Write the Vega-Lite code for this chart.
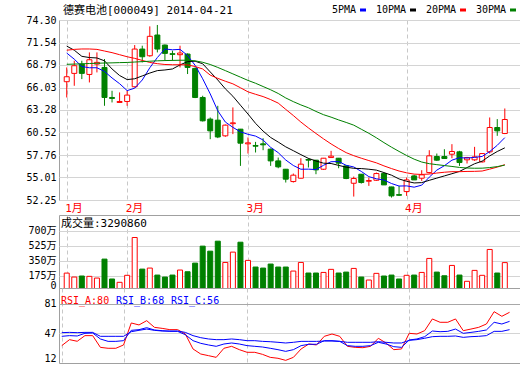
{
  "$schema": "https://vega.github.io/schema/vega-lite/v6.json",
  "autosize": {"type": "pad"},
  "padding": {"left": 25, "top": 4, "right": 1, "bottom": 1},
  "background": "white",
  "config": {
    "view": {"stroke": "#a0a0a0", "strokeWidth": 1},
    "font": "DejaVu Sans Mono, Noto Sans CJK SC",
    "axis": {"labelFont": "DejaVu Sans Mono, Noto Sans CJK SC", "labelFontSize": 10, "labelColor": "#000000", "ticks": false, "domain": false, "gridColor": "#d4d4d4", "title": null, "labelPadding": 3, "labelOverlap": false},
    "legend": {"labelFont": "DejaVu Sans Mono, Noto Sans CJK SC", "labelFontSize": 10, "labelColor": "#000000"},
    "title": {"font": "DejaVu Sans Mono, Noto Sans CJK SC", "fontSize": 11, "fontWeight": "normal", "color": "#000000"}
  },
  "datasets": {
    "k": [
      {"i":0,"o":66.74,"h":68.49,"l":64.81,"c":67.35,"v":206,"5PMA":70.25,"10PMA":71.1,"20PMA":70.6,"30PMA":68.87,"RSI_A":32.3,"RSI_B":43.2,"RSI_C":47.5},
      {"i":1,"o":67.76,"h":69.31,"l":66.24,"c":68.70,"v":160,"5PMA":69.5,"10PMA":70.6,"20PMA":70.7,"30PMA":68.9,"RSI_A":39.3,"RSI_B":44.0,"RSI_C":47.8},
      {"i":2,"o":68.90,"h":69.31,"l":67.06,"c":67.76,"v":172,"5PMA":68.6,"10PMA":69.85,"20PMA":70.75,"30PMA":68.93,"RSI_A":37.4,"RSI_B":43.6,"RSI_C":47.5},
      {"i":3,"o":67.63,"h":70.33,"l":66.65,"c":69.43,"v":168,"5PMA":68.45,"10PMA":69.7,"20PMA":70.75,"30PMA":68.97,"RSI_A":44.0,"RSI_B":46.7,"RSI_C":47.8},
      {"i":4,"o":68.90,"h":70.33,"l":67.88,"c":69.11,"v":148,"5PMA":68.45,"10PMA":69.65,"20PMA":70.7,"30PMA":69.0,"RSI_A":44.0,"RSI_B":47.1,"RSI_C":47.8},
      {"i":5,"o":68.49,"h":69.52,"l":63.79,"c":64.81,"v":370,"5PMA":68.0,"10PMA":69.3,"20PMA":70.5,"30PMA":69.03,"RSI_A":30.3,"RSI_B":40.1,"RSI_C":43.2},
      {"i":6,"o":64.81,"h":65.63,"l":64.20,"c":64.69,"v":137,"5PMA":67.2,"10PMA":68.3,"20PMA":70.3,"30PMA":69.05,"RSI_A":29.2,"RSI_B":37.3,"RSI_C":43.2},
      {"i":7,"o":64.20,"h":65.43,"l":64.16,"c":64.32,"v":98,"5PMA":66.5,"10PMA":67.5,"20PMA":70.05,"30PMA":69.08,"RSI_A":29.2,"RSI_B":37.3,"RSI_C":43.2},
      {"i":8,"o":64.32,"h":65.63,"l":63.79,"c":65.10,"v":180,"5PMA":65.65,"10PMA":67.0,"20PMA":69.8,"30PMA":69.1,"RSI_A":33.1,"RSI_B":38.1,"RSI_C":43.2},
      {"i":9,"o":66.12,"h":71.23,"l":66.04,"c":70.74,"v":623,"5PMA":65.95,"10PMA":67.1,"20PMA":69.6,"30PMA":69.15,"RSI_A":58.8,"RSI_B":50.2,"RSI_C":48.6},
      {"i":10,"o":70.74,"h":71.15,"l":69.11,"c":69.80,"v":253,"5PMA":66.95,"10PMA":67.45,"20PMA":69.35,"30PMA":69.2,"RSI_A":56.5,"RSI_B":51.0,"RSI_C":50.2},
      {"i":11,"o":69.92,"h":73.52,"l":69.80,"c":72.30,"v":265,"5PMA":68.45,"10PMA":67.8,"20PMA":69.1,"30PMA":69.25,"RSI_A":61.5,"RSI_B":53.3,"RSI_C":51.7},
      {"i":12,"o":72.46,"h":73.69,"l":70.33,"c":70.74,"v":183,"5PMA":69.7,"10PMA":68.1,"20PMA":68.95,"30PMA":69.3,"RSI_A":53.7,"RSI_B":50.6,"RSI_C":50.2},
      {"i":13,"o":71.23,"h":71.30,"l":69.31,"c":70.21,"v":160,"5PMA":70.75,"10PMA":68.18,"20PMA":68.85,"30PMA":69.33,"RSI_A":52.5,"RSI_B":49.8,"RSI_C":49.4},
      {"i":14,"o":70.17,"h":70.54,"l":69.31,"c":70.09,"v":183,"5PMA":70.65,"10PMA":68.3,"20PMA":68.82,"30PMA":69.35,"RSI_A":51.0,"RSI_B":49.0,"RSI_C":49.4},
      {"i":15,"o":70.05,"h":71.15,"l":68.49,"c":70.25,"v":242,"5PMA":70.7,"10PMA":68.8,"20PMA":68.82,"30PMA":69.37,"RSI_A":51.0,"RSI_B":49.0,"RSI_C":49.4},
      {"i":16,"o":70.13,"h":70.21,"l":67.68,"c":68.49,"v":222,"5PMA":69.95,"10PMA":69.2,"20PMA":68.8,"30PMA":69.37,"RSI_A":46.0,"RSI_B":45.1,"RSI_C":47.8},
      {"i":17,"o":68.37,"h":68.49,"l":64.73,"c":64.81,"v":323,"5PMA":68.75,"10PMA":69.25,"20PMA":68.6,"30PMA":69.3,"RSI_A":28.4,"RSI_B":38.1,"RSI_C":44.0},
      {"i":18,"o":64.81,"h":65.02,"l":61.87,"c":61.95,"v":522,"5PMA":67.1,"10PMA":68.94,"20PMA":68.3,"30PMA":69.12,"RSI_A":22.5,"RSI_B":35.0,"RSI_C":41.6},
      {"i":19,"o":62.16,"h":62.36,"l":59.70,"c":60.72,"v":463,"5PMA":65.25,"10PMA":67.94,"20PMA":67.55,"30PMA":68.85,"RSI_A":20.6,"RSI_B":33.1,"RSI_C":40.1},
      {"i":20,"o":62.03,"h":63.79,"l":59.83,"c":59.97,"v":580,"5PMA":63.18,"10PMA":66.95,"20PMA":67.15,"30PMA":68.49,"RSI_A":18.6,"RSI_B":31.5,"RSI_C":39.3},
      {"i":21,"o":60.11,"h":61.50,"l":59.99,"c":61.42,"v":331,"5PMA":61.8,"10PMA":65.87,"20PMA":66.8,"30PMA":68.1,"RSI_A":29.2,"RSI_B":34.2,"RSI_C":39.3},
      {"i":22,"o":61.60,"h":63.59,"l":60.32,"c":61.70,"v":452,"5PMA":61.15,"10PMA":64.96,"20PMA":66.48,"30PMA":67.7,"RSI_A":31.5,"RSI_B":35.4,"RSI_C":40.1},
      {"i":23,"o":60.93,"h":60.95,"l":56.43,"c":59.21,"v":568,"5PMA":60.6,"10PMA":63.86,"20PMA":66.0,"30PMA":67.3,"RSI_A":27.6,"RSI_B":34.2,"RSI_C":39.3},
      {"i":24,"o":59.13,"h":59.91,"l":57.94,"c":59.25,"v":355,"5PMA":60.3,"10PMA":62.78,"20PMA":65.5,"30PMA":66.9,"RSI_A":24.5,"RSI_B":32.3,"RSI_C":38.1},
      {"i":25,"o":58.93,"h":59.37,"l":58.07,"c":58.84,"v":277,"5PMA":60.08,"10PMA":61.64,"20PMA":65.2,"30PMA":66.55,"RSI_A":24.5,"RSI_B":31.5,"RSI_C":38.1},
      {"i":26,"o":59.13,"h":59.82,"l":58.35,"c":59.01,"v":265,"5PMA":59.6,"10PMA":60.69,"20PMA":64.92,"30PMA":66.15,"RSI_A":22.1,"RSI_B":30.7,"RSI_C":37.3},
      {"i":27,"o":58.48,"h":58.55,"l":56.43,"c":57.04,"v":312,"5PMA":58.7,"10PMA":59.91,"20PMA":64.55,"30PMA":65.75,"RSI_A":18.6,"RSI_B":29.2,"RSI_C":36.9},
      {"i":28,"o":57.04,"h":57.45,"l":56.14,"c":56.31,"v":277,"5PMA":58.05,"10PMA":59.35,"20PMA":64.12,"30PMA":65.3,"RSI_A":17.5,"RSI_B":27.6,"RSI_C":36.2},
      {"i":29,"o":56.02,"h":56.05,"l":54.39,"c":54.80,"v":277,"5PMA":57.15,"10PMA":58.76,"20PMA":63.35,"30PMA":64.75,"RSI_A":15.1,"RSI_B":25.6,"RSI_C":35.4},
      {"i":30,"o":54.51,"h":55.49,"l":54.39,"c":55.29,"v":230,"5PMA":56.48,"10PMA":58.29,"20PMA":62.6,"30PMA":64.3,"RSI_A":18.6,"RSI_B":27.6,"RSI_C":36.2},
      {"i":31,"o":54.92,"h":57.37,"l":54.90,"c":56.64,"v":331,"5PMA":56.02,"10PMA":57.81,"20PMA":61.8,"30PMA":63.9,"RSI_A":28.4,"RSI_B":32.3,"RSI_C":37.3},
      {"i":32,"o":57.21,"h":57.37,"l":56.23,"c":57.13,"v":207,"5PMA":56.03,"10PMA":57.35,"20PMA":61.08,"30PMA":63.55,"RSI_A":34.2,"RSI_B":33.9,"RSI_C":37.3},
      {"i":33,"o":57.13,"h":57.15,"l":55.41,"c":55.94,"v":207,"5PMA":55.98,"10PMA":57.03,"20PMA":60.4,"30PMA":63.1,"RSI_A":33.1,"RSI_B":33.9,"RSI_C":37.3},
      {"i":34,"o":56.02,"h":57.40,"l":55.94,"c":57.37,"v":214,"5PMA":56.5,"10PMA":56.76,"20PMA":59.74,"30PMA":62.7,"RSI_A":43.2,"RSI_B":38.1,"RSI_C":37.7},
      {"i":35,"o":57.45,"h":58.27,"l":57.43,"c":57.62,"v":250,"5PMA":56.94,"10PMA":56.72,"20PMA":59.12,"30PMA":62.4,"RSI_A":45.9,"RSI_B":38.1,"RSI_C":37.7},
      {"i":36,"o":57.37,"h":57.40,"l":56.14,"c":56.76,"v":207,"5PMA":56.96,"10PMA":56.49,"20PMA":58.56,"30PMA":62.06,"RSI_A":43.2,"RSI_B":37.3,"RSI_C":37.3},
      {"i":37,"o":56.43,"h":56.45,"l":54.80,"c":54.88,"v":218,"5PMA":56.5,"10PMA":56.27,"20PMA":58.05,"30PMA":61.75,"RSI_A":31.5,"RSI_B":32.3,"RSI_C":36.2},
      {"i":38,"o":54.30,"h":55.12,"l":52.67,"c":54.88,"v":261,"5PMA":56.3,"10PMA":56.13,"20PMA":57.68,"30PMA":61.42,"RSI_A":30.3,"RSI_B":31.5,"RSI_C":36.2},
      {"i":39,"o":55.41,"h":55.43,"l":54.26,"c":54.39,"v":160,"5PMA":55.75,"10PMA":56.10,"20PMA":57.37,"30PMA":60.92,"RSI_A":29.9,"RSI_B":31.5,"RSI_C":36.2},
      {"i":40,"o":54.55,"h":55.00,"l":53.98,"c":54.63,"v":125,"5PMA":55.11,"10PMA":56.02,"20PMA":57.08,"30PMA":60.42,"RSI_A":31.5,"RSI_B":32.3,"RSI_C":36.2},
      {"i":41,"o":54.67,"h":55.61,"l":54.59,"c":55.49,"v":203,"5PMA":54.85,"10PMA":55.91,"20PMA":56.8,"30PMA":59.87,"RSI_A":40.9,"RSI_B":36.2,"RSI_C":36.9},
      {"i":42,"o":55.49,"h":55.50,"l":54.10,"c":54.10,"v":172,"5PMA":54.7,"10PMA":55.61,"20PMA":56.43,"30PMA":59.28,"RSI_A":35.4,"RSI_B":34.2,"RSI_C":36.2},
      {"i":43,"o":53.85,"h":53.87,"l":52.55,"c":52.75,"v":183,"5PMA":54.27,"10PMA":55.29,"20PMA":56.1,"30PMA":58.72,"RSI_A":27.6,"RSI_B":31.1,"RSI_C":35.4},
      {"i":44,"o":52.91,"h":53.98,"l":52.75,"c":52.83,"v":137,"5PMA":53.96,"10PMA":54.83,"20PMA":55.8,"30PMA":58.2,"RSI_A":28.4,"RSI_B":30.3,"RSI_C":35.4},
      {"i":45,"o":53.28,"h":55.00,"l":52.75,"c":54.71,"v":180,"5PMA":53.98,"10PMA":54.54,"20PMA":55.58,"30PMA":57.7,"RSI_A":46.7,"RSI_B":38.9,"RSI_C":38.5},
      {"i":46,"o":55.20,"h":55.33,"l":54.71,"c":54.71,"v":183,"5PMA":53.82,"10PMA":54.34,"20PMA":55.42,"30PMA":57.25,"RSI_A":45.9,"RSI_B":40.1,"RSI_C":39.3},
      {"i":47,"o":54.92,"h":55.90,"l":54.59,"c":55.33,"v":214,"5PMA":54.07,"10PMA":54.38,"20PMA":55.38,"30PMA":56.9,"RSI_A":49.8,"RSI_B":42.8,"RSI_C":40.9},
      {"i":48,"o":55.61,"h":58.35,"l":55.49,"c":57.66,"v":378,"5PMA":55.05,"10PMA":54.66,"20PMA":55.43,"30PMA":56.7,"RSI_A":63.5,"RSI_B":49.4,"RSI_C":42.8},
      {"i":49,"o":57.58,"h":57.94,"l":57.04,"c":57.13,"v":218,"5PMA":55.91,"10PMA":54.93,"20PMA":55.55,"30PMA":56.58,"RSI_A":59.6,"RSI_B":48.6,"RSI_C":43.2},
      {"i":50,"o":57.58,"h":58.47,"l":57.33,"c":57.33,"v":175,"5PMA":56.45,"10PMA":55.20,"20PMA":55.65,"30PMA":56.47,"RSI_A":59.6,"RSI_B":49.0,"RSI_C":43.2},
      {"i":51,"o":57.86,"h":59.09,"l":57.37,"c":58.19,"v":296,"5PMA":57.13,"10PMA":55.47,"20PMA":55.72,"30PMA":56.36,"RSI_A":63.5,"RSI_B":51.7,"RSI_C":43.6},
      {"i":52,"o":58.15,"h":58.27,"l":56.43,"c":56.84,"v":183,"5PMA":57.43,"10PMA":55.75,"20PMA":55.72,"30PMA":56.24,"RSI_A":49.8,"RSI_B":46.7,"RSI_C":42.0},
      {"i":53,"o":57.17,"h":57.53,"l":56.72,"c":57.45,"v":110,"5PMA":57.39,"10PMA":56.22,"20PMA":55.75,"30PMA":56.17,"RSI_A":51.7,"RSI_B":47.8,"RSI_C":42.8},
      {"i":54,"o":57.17,"h":58.76,"l":57.04,"c":57.53,"v":238,"5PMA":57.47,"10PMA":56.69,"20PMA":55.76,"30PMA":56.14,"RSI_A":53.7,"RSI_B":49.0,"RSI_C":43.2},
      {"i":55,"o":56.92,"h":57.96,"l":56.84,"c":57.94,"v":180,"5PMA":57.59,"10PMA":57.01,"20PMA":55.8,"30PMA":56.15,"RSI_A":57.6,"RSI_B":50.6,"RSI_C":44.0},
      {"i":56,"o":58.15,"h":62.36,"l":57.94,"c":61.13,"v":483,"5PMA":58.18,"10PMA":57.65,"20PMA":56.03,"30PMA":56.22,"RSI_A":72.0,"RSI_B":59.6,"RSI_C":49.0},
      {"i":57,"o":61.13,"h":62.16,"l":60.11,"c":60.72,"v":207,"5PMA":58.95,"10PMA":58.19,"20PMA":56.28,"30PMA":56.34,"RSI_A":66.6,"RSI_B":57.6,"RSI_C":49.0},
      {"i":58,"o":60.40,"h":63.46,"l":60.32,"c":62.11,"v":329,"5PMA":59.89,"10PMA":58.64,"20PMA":56.58,"30PMA":56.52,"RSI_A":71.3,"RSI_B":60.7,"RSI_C":51.0}
    ]
  },
  "bounds": "flush",
  "spacing": 15,
  "resolve": {"scale": {"color": "independent", "y": "independent"}, "legend": {"color": "independent"}},
  "vconcat": [
    {
      "width": 461,
      "height": 180,
      "title": {"text": "德赛电池[000049] 2014-04-21", "anchor": "start", "frame": "group", "dx": 4, "dy": 15, "offset": 4},
      "data": {"name": "k"},
      "encoding": {
        "x": {"field": "i", "type": "quantitative", "scale": {"domain": [-0.36, 59.35], "nice": false, "zero": false},
          "axis": {"values": [0, 8, 24, 45], "tickCount": 20, "labelExpr": "datum.value == 0 ? '1月' : datum.value == 8 ? '2月' : datum.value == 24 ? '3月' : '4月'", "labelColor": "#ff0000", "labelAlign": "left", "labelBaseline": "top", "labelPadding": 2, "labelOffset": -2, "labelFontSize": 11, "grid": true, "gridDash": [4, 3], "gridColor": "#c8c8c8"}}
      },
      "layer": [
        {
          "mark": {"type": "rule", "strokeWidth": 1},
          "encoding": {
            "y": {"field": "l", "type": "quantitative", "scale": {"domain": [52.25, 74.30], "nice": false, "zero": false},
              "axis": {"values": [52.25, 55.01, 57.76, 60.52, 63.28, 66.03, 68.79, 71.54, 74.30], "tickCount": 20, "format": ".2f", "grid": true, "labelOverlap": false, "labelSeparation": 0, "labelBound": false, "labelFlush": false}},
            "y2": {"field": "h"},
            "color": {"condition": {"test": "datum.c >= datum.o", "value": "#ff0000"}, "value": "#008000"}
          }
        },
        {
          "mark": {"type": "bar", "size": 5, "strokeWidth": 1},
          "encoding": {
            "y": {"field": "o", "type": "quantitative"},
            "y2": {"field": "c"},
            "fill": {"condition": {"test": "datum.c >= datum.o", "value": "#ffffff"}, "value": "#008000"},
            "stroke": {"condition": {"test": "datum.c >= datum.o", "value": "#ff0000"}, "value": "#008000"}
          }
        },
        {
          "transform": [{"fold": ["5PMA", "10PMA", "20PMA", "30PMA"], "as": ["ma", "val"]}],
          "mark": {"type": "line", "strokeWidth": 1},
          "encoding": {
            "y": {"field": "val", "type": "quantitative", "axis": {"values": [52.25, 55.01, 57.76, 60.52, 63.28, 66.03, 68.79, 71.54, 74.30], "tickCount": 20, "format": ".2f", "grid": true, "labelOverlap": false}},
            "color": {"field": "ma", "type": "nominal", "sort": null,
              "scale": {"domain": ["5PMA", "10PMA", "20PMA", "30PMA"], "range": ["#0000ff", "#000000", "#ff0000", "#008000"]},
              "legend": {"orient": "none", "legendX": 299, "legendY": -15, "direction": "horizontal", "title": null, "symbolType": "stroke", "symbolSize": 36, "symbolStrokeWidth": 3, "labelAlign": "right", "labelOffset": -12, "columnPadding": 3, "padding": 0}}
          }
        }
      ]
    },
    {
      "bounds": "flush",
      "spacing": 0,
      "resolve": {"scale": {"y": "independent", "color": "independent"}, "legend": {"color": "independent"}},
      "vconcat": [
        {
          "width": 461,
          "height": 73,
          "title": {"text": "成交量:3290860", "anchor": "start", "frame": "group", "dx": 2, "offset": -14},
          "data": {"name": "k"},
          "mark": {"type": "bar", "size": 5, "strokeWidth": 1, "clip": true},
          "encoding": {
            "x": {"field": "i", "type": "quantitative", "scale": {"domain": [-0.36, 59.35], "nice": false, "zero": false},
              "axis": {"values": [0, 8, 24, 45], "tickCount": 20, "labels": false, "grid": true, "gridDash": [4, 3], "gridColor": "#c8c8c8"}},
            "y": {"field": "v", "type": "quantitative", "scale": {"domain": [31.5, 886.8], "nice": false, "zero": false},
              "axis": {"values": [62, 175, 350, 525, 700], "tickCount": 20, "labelExpr": "datum.value < 100 ? '0' : datum.value + '万'", "grid": true, "gridOpacity": {"condition": {"test": "datum.value < 100", "value": 0}, "value": 1}}},
            "y2": {"datum": 0},
            "fill": {"condition": {"test": "datum.c >= datum.o", "value": "#ffffff"}, "value": "#008000"},
            "stroke": {"condition": {"test": "datum.c >= datum.o", "value": "#ff0000"}, "value": "#008000"}
          }
        },
        {
          "width": 461,
          "height": 75,
          "data": {"name": "k"},
          "transform": [{"fold": ["RSI_A", "RSI_B", "RSI_C"], "as": ["rsi", "rv"]}],
          "mark": {"type": "line", "strokeWidth": 1},
          "encoding": {
            "x": {"field": "i", "type": "quantitative", "scale": {"domain": [-0.36, 59.35], "nice": false, "zero": false},
              "axis": {"values": [0, 8, 24, 45], "tickCount": 20, "labels": false, "grid": true, "gridDash": [4, 3], "gridColor": "#c8c8c8"}},
            "y": {"field": "rv", "type": "quantitative", "scale": {"domain": [12, 99.7], "nice": false, "zero": false},
              "axis": {"values": [12, 47, 81], "tickCount": 20, "grid": true, "labelBaseline": {"condition": {"test": "datum.value < 20", "value": "bottom"}, "value": "middle"}, "gridColor": {"condition": {"test": "datum.value > 70", "value": "#a8a8a8"}, "value": "#d4d4d4"}, "gridOpacity": {"condition": {"test": "datum.value < 20", "value": 0}, "value": 1}}},
            "color": {"field": "rsi", "type": "nominal",
              "scale": {"domain": ["RSI_A", "RSI_B", "RSI_C"], "range": ["#ff0000", "#0000ff", "#0000ff"]},
              "legend": {"orient": "none", "legendX": 4, "legendY": 8, "direction": "horizontal", "title": null, "symbolOpacity": 0, "symbolSize": 1, "symbolStrokeWidth": 0, "labelOffset": -12, "columnPadding": 6, "padding": 0,
                "labelExpr": "datum.value == 'RSI_A' ? 'RSI_A:80' : datum.value == 'RSI_B' ? 'RSI_B:68' : 'RSI_C:56'",
                "encode": {"labels": {"update": {"fill": {"signal": "datum.value == 'RSI_A' ? '#ff0000' : '#0000ff'"}}}}}}
          }
        }
      ]
    }
  ]
}
